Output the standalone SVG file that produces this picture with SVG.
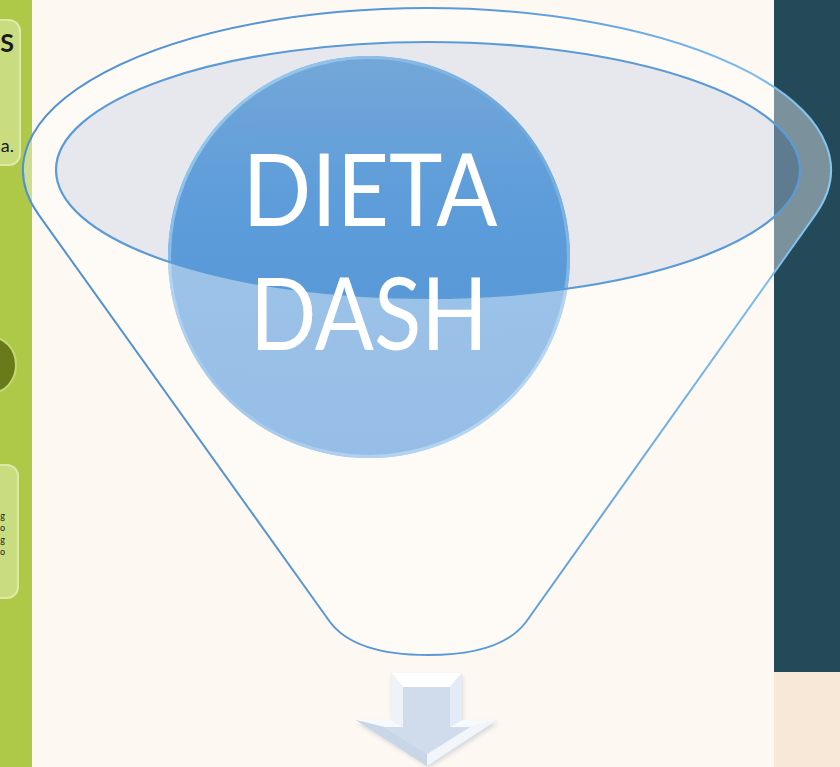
<svg xmlns="http://www.w3.org/2000/svg" width="840" height="767" viewBox="0 0 840 767">
<defs>
<style>
.card{fill:#C9DD80;stroke:#DCEAA6;stroke-width:2}
.lbl{font-family:Lato,"Liberation Sans",Arial,sans-serif;fill:#1A1A1A}
.big{font-family:Lato,"Liberation Sans",Arial,sans-serif;font-size:100px;fill:#FFFFFF}
</style>
<linearGradient id="circ" x1="0" y1="0" x2="0" y2="1">
<stop offset="0" stop-color="#74A7D8"/>
<stop offset="0.35" stop-color="#5E9DDA"/>
<stop offset="1" stop-color="#5192D6"/>
</linearGradient>
<linearGradient id="ring" x1="0" y1="0" x2="1" y2="1">
<stop offset="0" stop-color="#B8E4FB"/>
<stop offset="0.5" stop-color="#6FA9DE"/>
<stop offset="1" stop-color="#A6D5F6"/>
</linearGradient>
<linearGradient id="fstroke" x1="0" y1="0" x2="840" y2="0" gradientUnits="userSpaceOnUse">
<stop offset="0" stop-color="#4F8FD3"/>
<stop offset="0.6" stop-color="#5B9BD8"/>
<stop offset="1" stop-color="#86C7F3"/>
</linearGradient>
<filter id="sh" x="-20%" y="-20%" width="140%" height="140%">
<feGaussianBlur stdDeviation="2"/>
</filter>
</defs>

<!-- backgrounds -->
<rect x="0" y="0" width="840" height="767" fill="#FEF8F2"/>
<rect x="0" y="0" width="32" height="767" fill="#AEC847"/>
<rect x="774" y="0" width="66" height="672" fill="#244A5A"/>
<rect x="774" y="672" width="66" height="95" fill="#F7E8D8"/>

<!-- left partial panel -->
<g id="left-card-1">
<rect class="card" x="-12" y="20" width="32" height="145" rx="11"/>
<text class="lbl" x="14" y="52" font-size="25" font-weight="bold" text-anchor="end">S</text>
<text class="lbl" x="14" y="152" font-size="18" text-anchor="end">a.</text>
</g>
<g id="left-ellipse">
<ellipse cx="-9" cy="365" rx="25" ry="28" fill="#687A1A" stroke="#C4D873" stroke-width="2"/>
</g>
<g id="left-card-2">
<rect class="card" x="-12" y="465" width="30" height="133" rx="11"/>
<text class="lbl" x="5" y="519" font-size="9" text-anchor="end">g</text>
<text class="lbl" x="5" y="531" font-size="9" text-anchor="end">o</text>
<text class="lbl" x="5" y="543" font-size="9" text-anchor="end">g</text>
<text class="lbl" x="5" y="555" font-size="9" text-anchor="end">o</text>
</g>

<!-- funnel -->
<g id="funnel">
<ellipse cx="428" cy="170" rx="372" ry="128" fill="#C1CCE7" fill-opacity="0.38"/>
</g>

<g id="dieta-dash">
<circle cx="369" cy="257" r="201" fill="url(#circ)"/>
<circle cx="369" cy="257" r="199.5" fill="none" stroke="url(#ring)" stroke-width="3" opacity="0.75"/>
</g>

<g id="funnel-body">
<path d="M38.4 214.4 A404 162 0 1 1 815.6 214.4 L526 622 C505 650 460 655 428 655 C396 655 351 650 330 622 Z M56 170 A372 128 0 1 0 800 170 A372 128 0 1 0 56 170 Z" fill="#FFFFFF" fill-opacity="0.4" fill-rule="evenodd" stroke="none"/>
<path d="M38.4 214.4 A404 162 0 1 1 815.6 214.4 L526 622 C505 650 460 655 428 655 C396 655 351 650 330 622 Z" fill="none" stroke="url(#fstroke)" stroke-width="2"/>
<ellipse cx="428" cy="170" rx="372" ry="128" fill="none" stroke="#5B9BD5" stroke-width="2.2"/>
</g>

<g id="dieta-dash-label">
<text class="big" x="370" y="226" text-anchor="middle" textLength="255" lengthAdjust="spacingAndGlyphs">DIETA</text>
<text class="big" x="369" y="350" text-anchor="middle" textLength="238" lengthAdjust="spacingAndGlyphs">DASH</text>
</g>

<g id="connectors"/>

<!-- down arrow -->
<g id="arrow-down">
<polygon points="392,676 463,676 463,723 499,723 429,768 357,723 392,723" fill="#A9B4C2" opacity="0.45" filter="url(#sh)"/>
<polygon points="391,673 462,673 462,720 497,720 427,766 356,720 391,720" fill="#D2DFEF"/>
<polygon points="391,673 462,673 450,687 403,687" fill="#FFFFFF"/>
<polygon points="391,673 403,687 403,727 391,720" fill="#EEF3FA"/>
<polygon points="462,673 462,720 450,727 450,687" fill="#E3EBF6"/>
<polygon points="356,720 391,720 403,727 384,727" fill="#F7FAFD"/>
<polygon points="462,720 497,720 470,727 450,727" fill="#F7FAFD"/>
<polygon points="356,720 384,727 427,754 427,766" fill="#C9D6E8"/>
<polygon points="497,720 427,766 427,754 470,727" fill="#F2F6FB"/>
<polygon points="403,687 450,687 450,727 470,727 427,754 384,727 403,727" fill="#D0DCEC"/>
</g>
</svg>
